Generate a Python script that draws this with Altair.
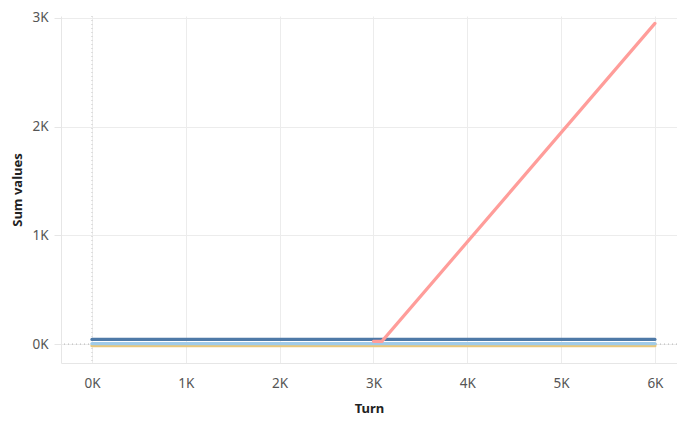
import altair as alt
import pandas as pd

series_names = ["Dark blue", "Light blue", "Tan", "Red"]
series_colors = ["#4e79a7", "#a0cbe8", "#e9c77b", "#ff9d9a"]

dark_turns = [0, 6000]
dark_values = [43, 43]
light_turns = [0, 6000]
light_values = [5, 5]
tan_turns = [0, 6000]
tan_values = [-15, -15]
red_turns = [3000, 3090, 6000]
red_values = [25, 25, 2950]

x_ticks = [0, 1000, 2000, 3000, 4000, 5000, 6000]
y_ticks = [0, 1000, 2000, 3000]

rows = []
for name, turns, vals in [
    ("Tan", tan_turns, tan_values),
    ("Light blue", light_turns, light_values),
    ("Dark blue", dark_turns, dark_values),
    ("Red", red_turns, red_values),
]:
    for t, v in zip(turns, vals):
        rows.append({"series": name, "Turn": t, "value": v})
df = pd.DataFrame(rows)

font = "Noto Sans"
xscale = alt.Scale(domain=[-330, 6235], nice=False, zero=False)
yscale = alt.Scale(domain=[-174, 3018], nice=False, zero=False)

lines = alt.Chart(df).mark_line(strokeWidth=3.2, strokeCap="round").encode(
    x=alt.X("Turn:Q", scale=xscale,
            axis=alt.Axis(title="Turn", values=x_ticks,
                          labelExpr="datum.value/1000 + 'K'",
                          grid=True, gridColor="#ececec", domainColor="#e6e6e6",
                          ticks=False, labelPadding=13, titlePadding=13)),
    y=alt.Y("value:Q", scale=yscale,
            axis=alt.Axis(title="Sum values", values=y_ticks,
                          labelExpr="datum.value/1000 + 'K'",
                          grid=True, gridColor="#ececec", domainColor="#e6e6e6",
                          ticks=True, tickColor="#e6e6e6", tickSize=7,
                          labelPadding=6, titlePadding=7)),
    color=alt.Color("series:N", scale=alt.Scale(domain=series_names, range=series_colors), legend=None),
    detail="series:N",
)

zero_h = alt.Chart(pd.DataFrame({"v": [0]})).mark_rule(
    strokeDash=[1, 3], color="#b0b0b0", strokeWidth=1
).encode(y=alt.Y("v:Q", scale=yscale))
zero_v = alt.Chart(pd.DataFrame({"v": [0]})).mark_rule(
    strokeDash=[1, 3], color="#c8c8c8", strokeWidth=1
).encode(x=alt.X("v:Q", scale=xscale))

chart = alt.layer(zero_v, zero_h, lines).properties(
    width=616, height=347,
    autosize=alt.AutoSizeParams(type="none"),
    padding={"left": 53, "top": 8, "right": 0, "bottom": 58},
).configure_view(stroke=None).configure_axis(
    labelFont=font, titleFont=font, labelFontSize=13.5, labelColor="#555555",
    titleFontSize=13, titleFontWeight="bold", titleColor="#222222",
)

chart.save("out.html", embed_options={"renderer": "svg", "actions": False})
